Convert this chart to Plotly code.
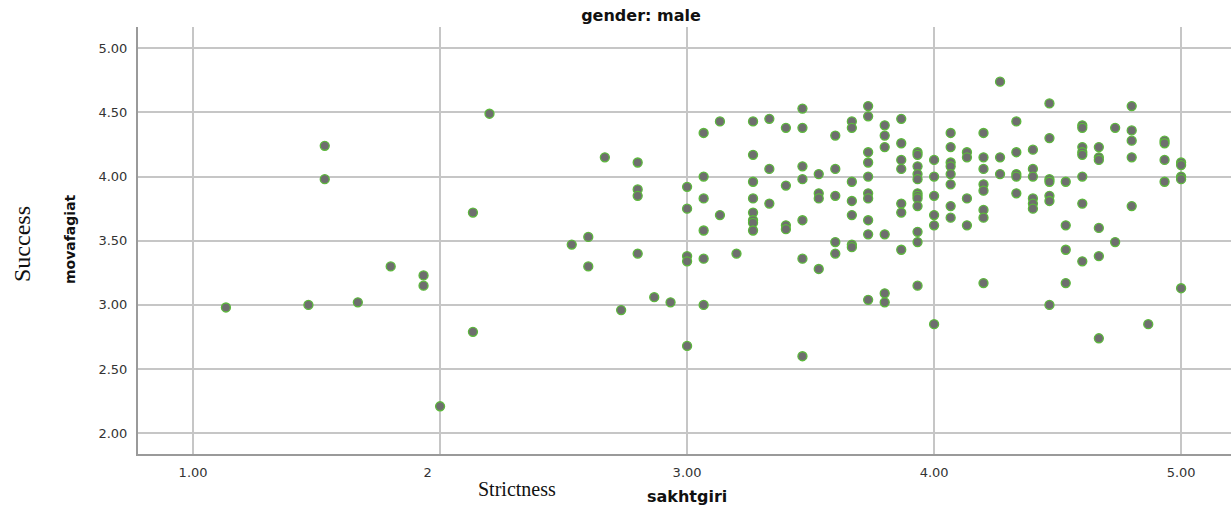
import plotly.graph_objects as go

# strictness (sakhtgiri) column values and success (movafagiat) values per column
strictness_cols = [1.133, 1.467, 1.533, 1.667, 1.800, 1.933, 2.000, 2.133, 2.200,
                   2.533, 2.600, 2.667, 2.733, 2.800, 2.867, 2.933,
                   3.000, 3.067, 3.133, 3.200, 3.267, 3.333, 3.400, 3.467, 3.533,
                   3.600, 3.667, 3.733, 3.800, 3.867, 3.933, 4.000,
                   4.067, 4.133, 4.200, 4.267, 4.333, 4.400, 4.467, 4.533,
                   4.600, 4.667, 4.733, 4.800, 4.867, 4.933, 5.000]
success_cols = [
    [2.98], [3.00], [4.24, 3.98], [3.02], [3.30], [3.23, 3.15], [2.21], [3.72, 2.79], [4.49],
    [3.47], [3.53, 3.30], [4.15], [2.96], [4.11, 3.90, 3.85, 3.40], [3.06], [3.02],
    [3.92, 3.75, 3.38, 3.34, 2.68],
    [4.34, 4.00, 3.83, 3.58, 3.36, 3.00],
    [4.43, 3.70],
    [3.40],
    [4.43, 4.17, 3.96, 3.83, 3.72, 3.66, 3.64, 3.58],
    [4.45, 4.06, 3.79],
    [4.38, 3.93, 3.62, 3.59],
    [4.53, 4.38, 4.08, 3.98, 3.66, 3.36, 2.60],
    [4.02, 3.87, 3.83, 3.28],
    [4.32, 4.06, 3.85, 3.49, 3.40],
    [4.43, 4.38, 3.96, 3.81, 3.70, 3.47, 3.45],
    [4.55, 4.47, 4.19, 4.11, 4.00, 3.87, 3.83, 3.66, 3.55, 3.04],
    [4.40, 4.32, 4.23, 3.55, 3.09, 3.02],
    [4.45, 4.26, 4.13, 4.06, 3.79, 3.72, 3.43],
    [4.19, 4.17, 4.08, 4.02, 3.98, 3.87, 3.85, 3.83, 3.77, 3.57, 3.49, 3.15],
    [4.13, 4.00, 3.85, 3.70, 3.62, 2.85],
    [4.34, 4.23, 4.11, 4.08, 4.02, 3.94, 3.77, 3.68],
    [4.19, 4.15, 3.83, 3.62],
    [4.34, 4.15, 4.06, 3.94, 3.89, 3.74, 3.68, 3.17],
    [4.74, 4.15, 4.02],
    [4.43, 4.19, 4.02, 4.00, 3.87],
    [4.21, 4.06, 4.00, 3.83, 3.79, 3.75],
    [4.57, 4.30, 3.98, 3.96, 3.85, 3.81, 3.00],
    [3.96, 3.62, 3.43, 3.17],
    [4.40, 4.38, 4.23, 4.19, 4.17, 4.00, 3.79, 3.34],
    [4.23, 4.15, 4.13, 3.60, 3.38, 2.74],
    [4.38, 3.49],
    [4.55, 4.36, 4.28, 4.15, 3.77],
    [2.85],
    [4.28, 4.26, 4.13, 3.96],
    [4.11, 4.09, 4.00, 3.98, 3.13],
]

x_tickvals = [1, 2, 3, 4, 5]
x_ticktext = ["1.00", "2" + "\u00a0" * 6, "3.00", "4.00", "5.00"]
y_tickvals = [2.0, 2.5, 3.0, 3.5, 4.0, 4.5, 5.0]
y_ticktext = ["2.00", "2.50", "3.00", "3.50", "4.00", "4.50", "5.00"]

strictness = []
success = []
for xv, ys in zip(strictness_cols, success_cols):
    for yv in ys:
        strictness.append(xv)
        success.append(yv)

fig = go.Figure()
fig.add_trace(go.Scatter(
    x=strictness, y=success, mode="markers",
    marker=dict(size=9, color="#6e6e6e", line=dict(color="#5cb83c", width=1.3)),
    showlegend=False, hoverinfo="x+y",
))

W, H = 1231, 506
L, R, T, B = 138, 0, 27, 52

fig.update_layout(
    width=W, height=H,
    margin=dict(l=L, r=R, t=T, b=B, pad=0),
    paper_bgcolor="white", plot_bgcolor="white",
    font=dict(family="DejaVu Sans", size=13, color="#333333"),
    title=dict(text="<b>gender: male</b>", x=641 / W, xanchor="center",
               y=1 - 15 / H, yanchor="middle", xref="container", yref="container",
               font=dict(family="DejaVu Sans", size=16, color="#111111")),
    xaxis=dict(range=[0.777, 5.202], tickvals=x_tickvals, ticktext=x_ticktext,
               showgrid=True, gridcolor="#c6c6c6", gridwidth=1.6,
               showline=True, linecolor="#9a9a9a", linewidth=2,
               zeroline=False, ticks="", ticklabelstandoff=5,
               tickfont=dict(family="DejaVu Sans", size=13, color="#333333")),
    yaxis=dict(range=[1.838, 5.166], tickvals=y_tickvals, ticktext=y_ticktext,
               showgrid=True, gridcolor="#c6c6c6", gridwidth=1.6,
               showline=True, linecolor="#9a9a9a", linewidth=2,
               zeroline=False, ticks="", ticklabelstandoff=6,
               tickfont=dict(family="DejaVu Sans", size=13, color="#333333")),
)

pw, ph = W - L - R, H - T - B

def px_x(p):
    return (p - L) / pw

def px_y(p):
    return (H - B - p) / ph

fig.add_annotation(text="<b>movafagiat</b>", xref="paper", yref="paper",
                   x=px_x(70), y=px_y(239), textangle=-90, showarrow=False,
                   xanchor="center", yanchor="middle",
                   font=dict(family="DejaVu Sans", size=14, color="#111111"))
fig.add_annotation(text="Success", xref="paper", yref="paper",
                   x=px_x(22), y=px_y(244), textangle=-90, showarrow=False,
                   xanchor="center", yanchor="middle",
                   font=dict(family="Liberation Serif", size=24, color="#111111"))
fig.add_annotation(text="<b>sakhtgiri</b>", xref="paper", yref="paper",
                   x=px_x(687), y=px_y(497), showarrow=False,
                   xanchor="center", yanchor="middle",
                   font=dict(family="DejaVu Sans", size=16, color="#111111"))
fig.add_annotation(text="Strictness", xref="paper", yref="paper",
                   x=px_x(517), y=px_y(489), showarrow=False,
                   xanchor="center", yanchor="middle",
                   font=dict(family="Liberation Serif", size=20, color="#111111"))

fig.write_html("out.html",
               config={"displayModeBar": False},
               post_script="document.body.style.margin='0';document.body.style.overflow='hidden';")
